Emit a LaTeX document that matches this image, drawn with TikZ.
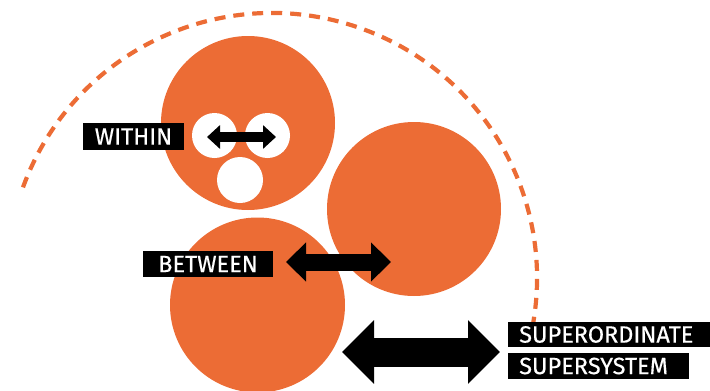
\documentclass[tikz,border=0pt]{standalone}
\usepackage{fontspec}
\setmainfont{Fira Sans}
\newfontfamily\lblfont[FakeBold=0.4]{Fira Sans}
\usetikzlibrary{arrows.meta}
\definecolor{orng}{HTML}{EC6C35}
\begin{document}
\begin{tikzpicture}[x=1pt,y=-1pt,
  bigc/.style={fill=orng},
  hole/.style={fill=white},
  lbl/.style={fill=black,text=white,font=\lblfont\fontsize{23.5}{23.5}\selectfont,inner sep=0pt},
  dasharc/.style={draw=orng,line width=4.2pt,dash pattern=on 11pt off 8pt},
  blockarrow/.style n args={3}{line width=#1,
    {Triangle[width=#2,length=#3]}-{Triangle[width=#2,length=#3]}}
]
\useasboundingbox (0,0) rectangle (710,391);
% outer dashed arc
\coordinate (oc) at (272,278);
\draw[dasharc] ([shift={(160:265pt)}]oc) arc[start angle=160,end angle=-17,radius=265pt];
% big circles
\coordinate (c1) at (248,123);
\coordinate (c2) at (414,209);
\coordinate (c3) at (257.5,305);
\fill[bigc] (c1) circle (87pt);
\fill[bigc] (c2) circle (87pt);
\fill[bigc] (c3) circle (87.5pt);
% small holes
\coordinate (h1) at (214.5,135.5);
\coordinate (h2) at (267.5,135.5);
\coordinate (h3) at (240,180);
\fill[hole] (h1) circle (22.5pt);
\fill[hole] (h2) circle (22.5pt);
\fill[hole] (h3) circle (23pt);
% arrows
\coordinate (wa) at (207,137);
\coordinate (wb) at (276,137);
\draw[blockarrow={10pt}{23pt}{13pt}] (wa) -- (wb);
\coordinate (ba) at (286,262);
\coordinate (bb) at (391,262);
\draw[blockarrow={17pt}{38pt}{20pt}] (ba) -- (bb);
\coordinate (sa) at (342,352);
\coordinate (sb) at (500,352);
\draw[blockarrow={29pt}{62pt}{32pt}] (sa) -- (sb);
% labels
\node[lbl,minimum width=101pt,minimum height=27pt] (within) at (133.5,136.5) {WITHIN};
\node[lbl,minimum width=130pt,minimum height=26pt] (between) at (208,264) {BETWEEN};
\node[lbl,anchor=west,minimum width=202pt,minimum height=25pt] (superord) at (508,334.5) {\makebox[180pt][l]{SUPERORDINATE}};
\node[lbl,anchor=west,minimum width=181pt,minimum height=26pt] (supersys) at (508,366) {\makebox[159pt][l]{SUPERSYSTEM}};
\end{tikzpicture}
\end{document}
